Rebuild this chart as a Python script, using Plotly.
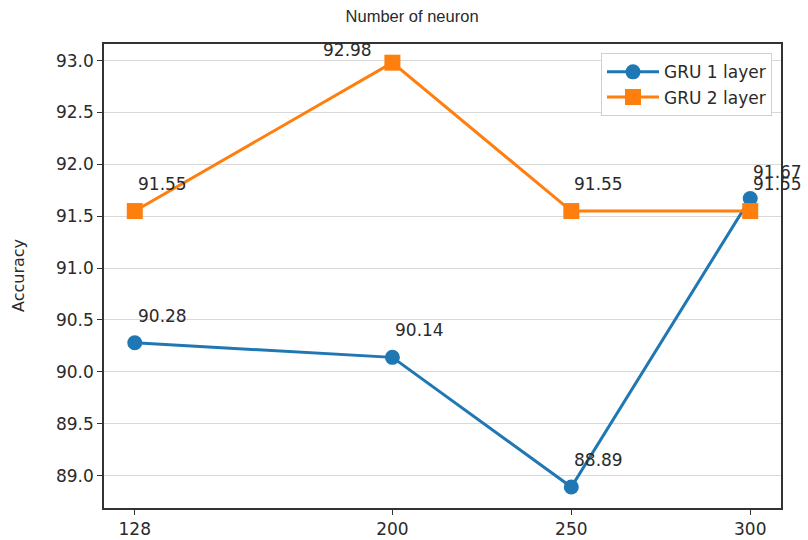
import plotly.graph_objects as go

# Accuracy (%) of GRU models for different numbers of neurons
neurons = [128, 200, 250, 300]
gru_1_layer = [90.28, 90.14, 88.89, 91.67]
gru_2_layer = [91.55, 92.98, 91.55, 91.55]

series_names = ["GRU 1 layer", "GRU 2 layer"]
y_ticks = [89.0, 89.5, 90.0, 90.5, 91.0, 91.5, 92.0, 92.5, 93.0]

BLUE = "#1f77b4"
ORANGE = "#ff7f0e"
FONT = "DejaVu Sans"
TXT = "#2a2a2a"

fig = go.Figure()
fig.add_trace(go.Scatter(
    x=neurons, y=gru_1_layer, name=series_names[0], mode="lines+markers",
    line=dict(color=BLUE, width=3),
    marker=dict(symbol="circle", size=15, color=BLUE),
    cliponaxis=False,
))
fig.add_trace(go.Scatter(
    x=neurons, y=gru_2_layer, name=series_names[1], mode="lines+markers",
    line=dict(color=ORANGE, width=3),
    marker=dict(symbol="square", size=16, color=ORANGE),
    cliponaxis=False,
))

# value labels above-right of each point
annotations = []
for xs, ys in ((neurons, gru_1_layer), (neurons, gru_2_layer)):
    for xv, yv in zip(xs, ys):
        if ys is gru_2_layer and xv == 200:
            # the peak label sits to the left of the marker
            annotations.append(dict(
                x=xv, y=yv, xref="x", yref="y", text=f"{yv:.2f}",
                showarrow=False, xanchor="right", yanchor="middle",
                xshift=-18, yshift=13,
                font=dict(family=FONT, size=17, color=TXT),
            ))
            continue
        annotations.append(dict(
            x=xv, y=yv, xref="x", yref="y", text=f"{yv:.2f}",
            showarrow=False, xanchor="left", yanchor="middle",
            xshift=1, yshift=27,
            font=dict(family=FONT, size=17, color=TXT),
        ))

# rotated y-axis title
annotations.append(dict(
    x=-0.127, y=0.5, xref="paper", yref="paper", text="Accuracy",
    showarrow=False, textangle=-90, xanchor="center", yanchor="middle",
    font=dict(family=FONT, size=16, color=TXT),
))

fig.update_layout(
    width=808, height=540,
    margin=dict(l=104, r=27, t=44, b=32, autoexpand=False),
    paper_bgcolor="white", plot_bgcolor="white",
    title=dict(
        text="Number of neuron", x=0.51, xanchor="center", xref="container",
        y=0.97, yanchor="middle", yref="container",
        font=dict(family="Liberation Sans", size=16.5, color=TXT),
    ),
    showlegend=True,
    legend=dict(
        x=0.9867, y=0.98, xanchor="right", yanchor="top",
        bgcolor="white", bordercolor="#d0d0d0", borderwidth=1,
        font=dict(family=FONT, size=17, color=TXT),
        itemwidth=52, tracegroupgap=0,
    ),
    annotations=annotations,
)

fig.update_xaxes(
    range=[119.4, 308.6], tickvals=neurons, ticktext=[str(n) for n in neurons],
    showgrid=False, zeroline=False, automargin=False,
    showline=True, linecolor="#333", linewidth=1.5, mirror=True,
    ticks="outside", ticklen=5, tickcolor="#333", tickwidth=1.2,
    tickfont=dict(family=FONT, size=17, color=TXT),
)
fig.update_yaxes(
    range=[88.688, 93.16], tickvals=y_ticks, ticktext=[f"{t:.1f}" for t in y_ticks],
    showgrid=True, gridcolor="#d9d9d9", gridwidth=1.3, zeroline=False,
    automargin=False,
    showline=True, linecolor="#333", linewidth=1.5, mirror=True,
    ticks="outside", ticklen=5, tickcolor="#333", tickwidth=1.2,
    tickfont=dict(family=FONT, size=17, color=TXT),
)

fig.write_html("out.html")
